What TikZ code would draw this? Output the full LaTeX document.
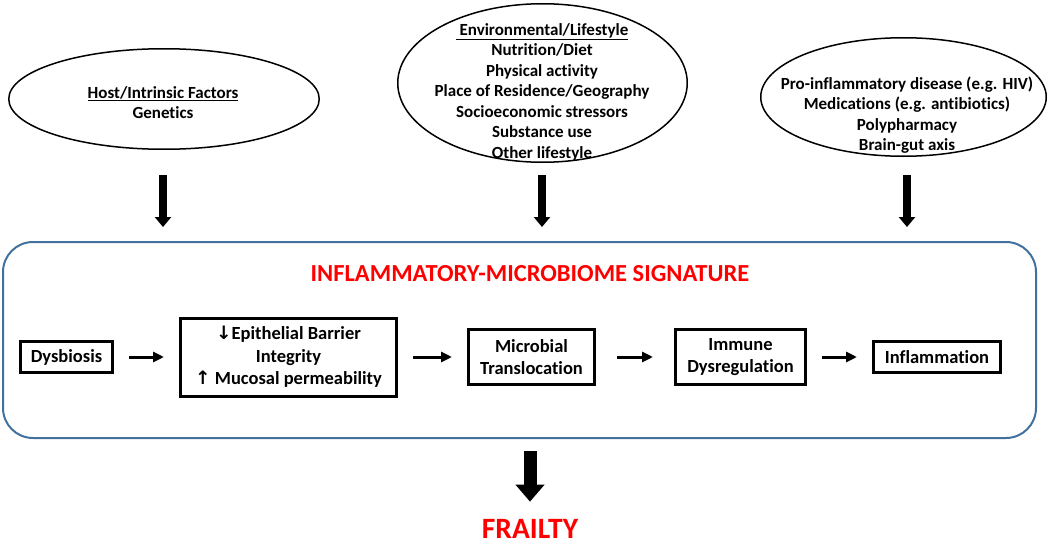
\documentclass[tikz,border=0pt]{standalone}
\usepackage{fontspec}
\setmainfont{Carlito}[Ligatures=NoCommon]
\newfontfamily\arrowfont{DejaVu Sans}
\usetikzlibrary{shapes.geometric,arrows.meta}
\definecolor{sigblue}{RGB}{65,113,156}
\definecolor{sigred}{RGB}{255,0,0}

\begin{document}
\begin{tikzpicture}[x=1pt, y=-1pt,
    factor/.style={draw, ellipse, line width=1.5pt, inner sep=0pt},
    factortext/.style={align=center, inner sep=0pt, font=\fontsize{17}{20.5}\selectfont\bfseries},
    flowbox/.style={draw, line width=3pt, align=center, inner sep=2pt, font=\fontsize{18.5}{22.5}\selectfont\bfseries},
    flowarrow/.style={line width=3pt, -{Triangle[length=11pt,width=10pt]}, shorten <=15pt, shorten >=15pt},
    downarrow/.style={line width=8pt, -{Triangle[length=10pt,width=16pt]}},
    fatarrow/.style={line width=13pt, -{Triangle[length=17pt,width=28pt]}}]
    \useasboundingbox (0,0) rectangle (1050,543);

    % Factor ellipses at the top
    \node[factor, minimum width=310.5, minimum height=100.5] (host) at (164,99) {};
    \node[factor, minimum width=289.5, minimum height=158.5] (env) at (542.5,83) {};
    \node[factor, minimum width=285.5, minimum height=118.5] (med) at (903.5,97) {};
    \node[factortext] (hosttext) at (163,102.5) {\underline{Host/Intrinsic Factors}\\Genetics};
    \node[factortext] (envtext) at (542,92) {\underline{~Environmental/Lifestyle}\\Nutrition/Diet\\Physical activity\\Place of Residence/Geography\\Socioeconomic stressors\\Substance use\\Other lifestyle};
    \node[factortext] (medtext) at (907,115) {Pro-inflammatory disease (e.g. HIV)\\Medications (e.g. antibiotics)\\Polypharmacy\\Brain-gut axis};

    % Signature frame
    \node[draw=sigblue, line width=2pt, rounded corners=30pt, minimum width=1033, minimum height=196] (sig) at (519.5,340) {};
    \node[text=sigred, font=\fontsize{24.5}{28}\selectfont\bfseries] (sigtitle) at (530,274) {INFLAMMATORY-MICROBIOME SIGNATURE};

    % Arrows from the factors into the frame
    \coordinate (arrtop) at (0,175);
    \coordinate (arrbot) at (0,227);
    \foreach \f in {hosttext, envtext, medtext}
        \draw[downarrow] (\f |- arrtop) -- (\f |- arrbot);

    % Chain of steps
    \node[flowbox, minimum width=92, minimum height=31] (dys) at (66.5,357) {Dysbiosis};
    \node[flowbox, minimum width=216, minimum height=78] (epi) at (288.5,357) {{\arrowfont ↓}Epithelial Barrier\\Integrity\\{\arrowfont ↑} Mucosal permeability};
    \node[flowbox, minimum width=126, minimum height=55] (micro) at (531.5,357) {Microbial\\Translocation};
    \node[flowbox, minimum width=130, minimum height=55] (immune) at (740.5,357) {Immune\\Dysregulation};
    \node[flowbox, minimum width=127, minimum height=31] (inflam) at (937,357) {Inflammation};
    \draw[flowarrow] (dys) -- (epi);
    \draw[flowarrow] (epi) -- (micro);
    \draw[flowarrow, shorten <=21pt, shorten >=21pt] (micro) -- (immune);
    \draw[flowarrow] (immune) -- (inflam);

    % Outcome
    \node[text=sigred, inner sep=0pt, anchor=base, font=\fontsize{29.5}{34}\selectfont\bfseries] (frailty) at (530,538) {FRAILTY};
    \draw[fatarrow, shorten <=12pt, shorten >=17pt] (sig.south -| frailty.north) -- (frailty.north);
\end{tikzpicture}
\end{document}
